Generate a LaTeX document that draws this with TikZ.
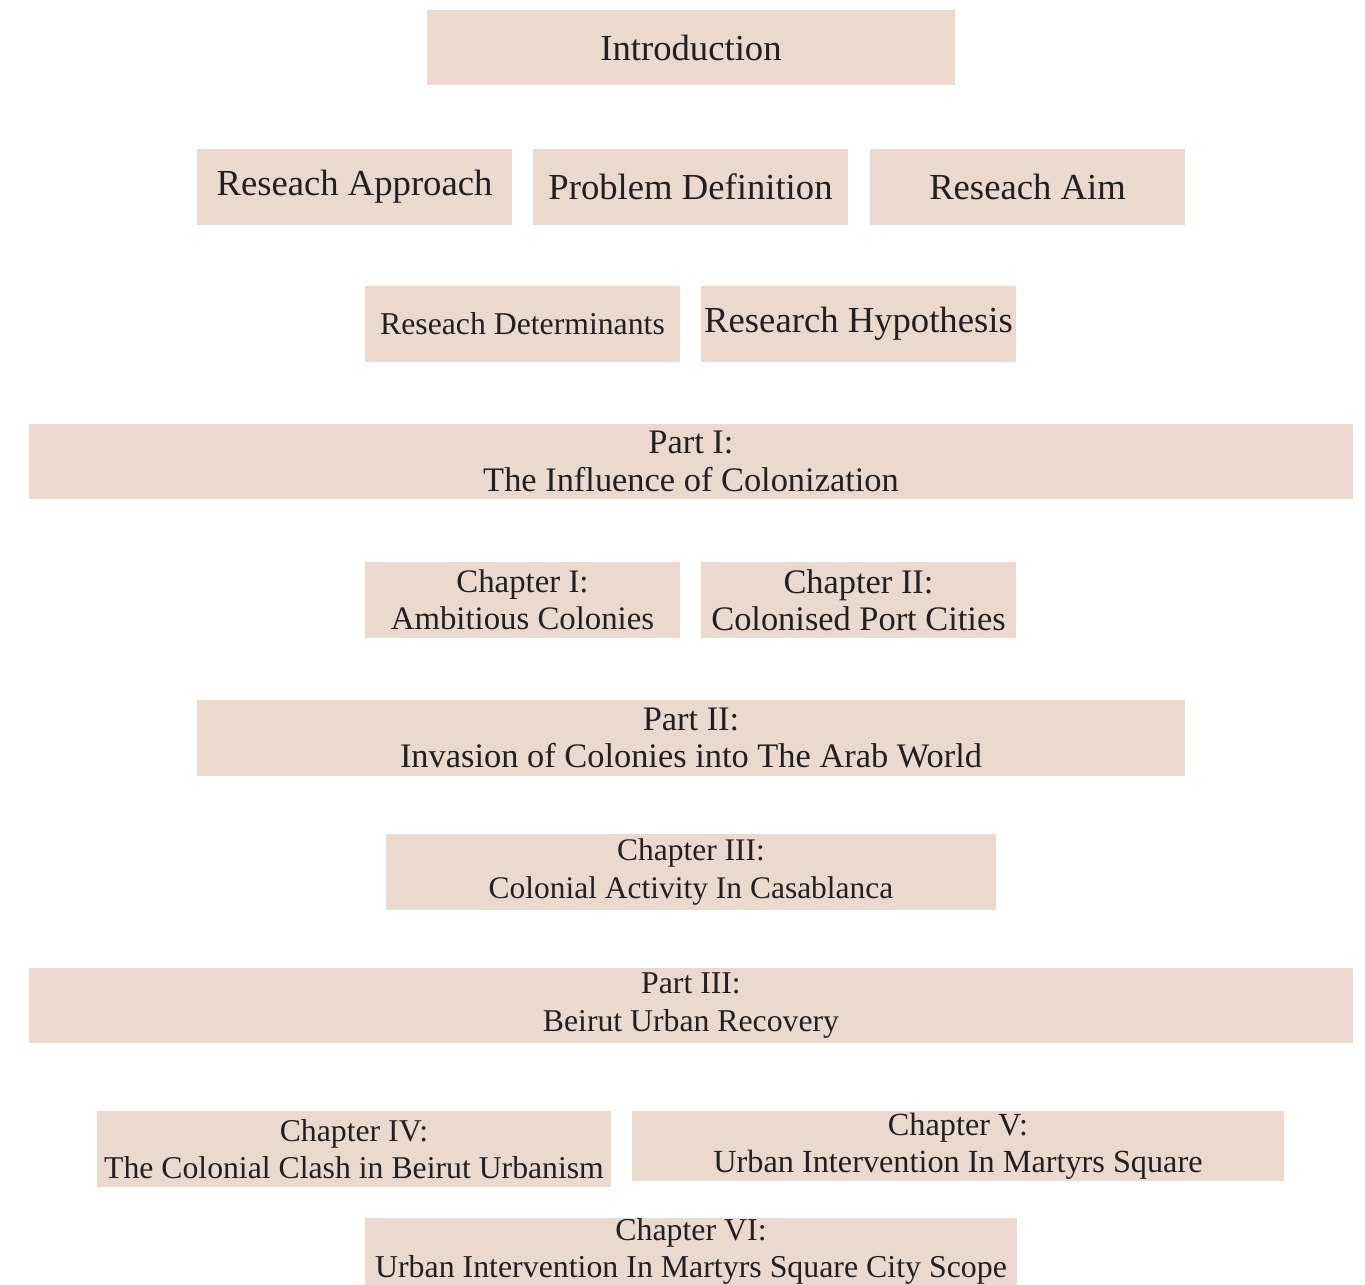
\documentclass[tikz,border=0pt]{standalone}
\usepackage{fontspec}
\setmainfont{Liberation Serif}
\definecolor{boxfill}{HTML}{EBD9CE}
\definecolor{ink}{HTML}{231F20}
\newcommand\boxnode[7]{%
  \node[#6, minimum width={(#4-#2)*0.75pt}, minimum height={(#5-#3)*0.75pt}]
    (#1) at ({(#2+#4)/2},{(#3+#5)/2}) {#7};}
\begin{document}
\begin{tikzpicture}[x=0.75pt,y=-0.75pt,
  box/.style={fill=boxfill, inner sep=0pt, text=ink, align=center},
  big/.style={box, font=\fontsize{27.5}{33}\selectfont},
  mid/.style={box, font=\fontsize{23.8}{28}\selectfont},
  body/.style={box, font=\fontsize{#1}{28}\selectfont},
  body/.default=25]
\useasboundingbox (0,0) rectangle (1365,1285);
\boxnode{intro}{427}{10}{955}{85}{big}{Introduction}
\boxnode{approach}{197}{149}{512}{225}{big}{Reseach Approach}
\boxnode{problem}{533}{149}{848}{225}{big}{Problem Definition}
\boxnode{aim}{870}{149}{1185}{225}{big}{Reseach Aim}
\boxnode{determ}{365}{286}{680}{362}{mid}{Reseach Determinants}
\boxnode{hypo}{701}{286}{1016}{362}{big}{Research Hypothesis}
\boxnode{part1}{29}{424}{1353}{499}{body=25.8}{Part I:\\The Influence of Colonization}
\boxnode{ch1}{365}{562}{680}{638}{body=24.6}{Chapter I:\\Ambitious Colonies}
\boxnode{ch2}{701}{562}{1016}{638}{body=25.8}{Chapter II:\\Colonised Port Cities}
\boxnode{part2}{197}{700}{1185}{776}{body=25.8}{Part II:\\Invasion of Colonies into The Arab World}
\boxnode{ch3}{386}{834}{996}{910}{body=23.6}{Chapter III:\\Colonial Activity In Casablanca}
\boxnode{part3}{29}{968}{1353}{1043}{body=23.8}{Part III:\\Beirut Urban Recovery}
\boxnode{ch4}{97}{1111}{611}{1187}{body=23.8}{Chapter IV:\\The Colonial Clash in Beirut Urbanism}
\boxnode{ch5}{632}{1111}{1284}{1181}{body=24.2}{Chapter V:\\Urban Intervention In Martyrs Square}
\boxnode{ch6}{365}{1218}{1017}{1285}{body=23.9}{Chapter VI:\\Urban Intervention In Martyrs Square City Scope}
\end{tikzpicture}
\end{document}
